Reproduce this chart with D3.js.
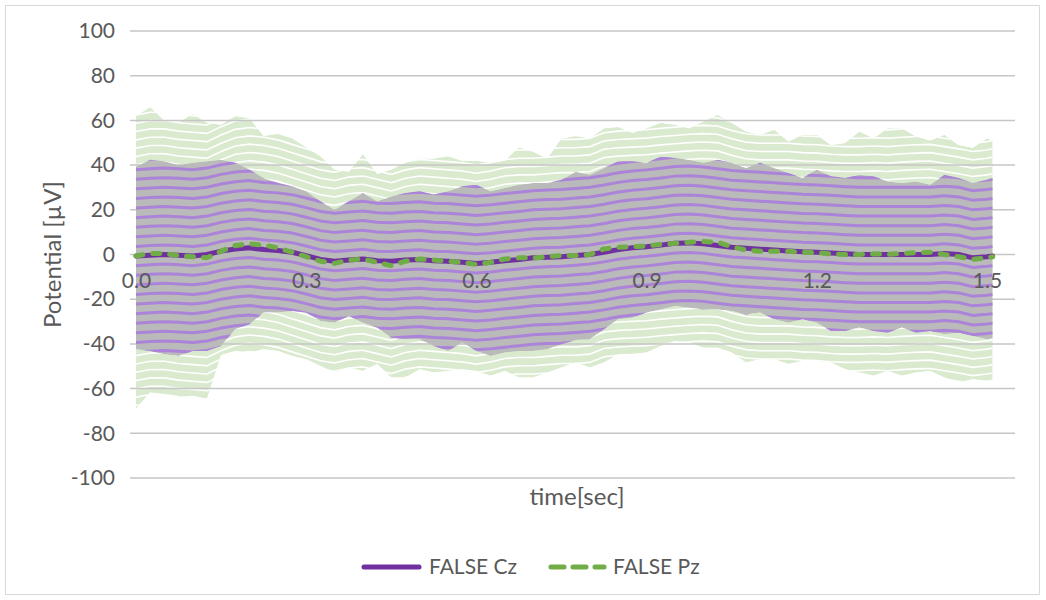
<!DOCTYPE html>
<html lang="en">
<head>
  <meta charset="utf-8">
  <title>FALSE Cz / Pz</title>
  <style>
    body { margin: 0; background: #fff; font-family: Lato, "Open Sans", sans-serif; }
    .tick text { fill: #595959; font-size: 21px; font-family: Lato, sans-serif; }
  </style>
</head>
<body>
  <svg id="chart" width="1046" height="600"></svg>

  <script src="https://d3js.org/d3.v7.min.js"></script>
  <script>
    // sample times (sec)
    const times = [0, 0.025, 0.05, 0.075, 0.1, 0.125, 0.15, 0.175, 0.2, 0.225, 0.25, 0.275, 0.3,
      0.325, 0.35, 0.375, 0.4, 0.425, 0.45, 0.475, 0.5, 0.525, 0.55, 0.575, 0.6,
      0.625, 0.65, 0.675, 0.7, 0.725, 0.75, 0.775, 0.8, 0.825, 0.85, 0.875, 0.9,
      0.925, 0.95, 0.975, 1.0, 1.025, 1.05, 1.075, 1.1, 1.125, 1.15, 1.175, 1.2,
      1.225, 1.25, 1.275, 1.3, 1.325, 1.35, 1.375, 1.4, 1.425, 1.45, 1.475, 1.5, 1.51];

    // FALSE Cz : mean and mean ± sd
    const czMean = [-0.7, -0.3, 0, -0.3, -0.7, 0, 1.5, 2.5, 3, 2.2, 1.8, 1, -0.5,
      -2.2, -3, -2.5, -2, -2.8, -3, -2.5, -2.2, -2.8, -3, -3.5, -4,
      -3.5, -2.8, -2.2, -1.5, -1.2, -1, -0.5, 0, 1, 2.2, 3, 3.5,
      4.2, 5, 5.2, 4.8, 4, 3.2, 2.8, 2.4, 2, 1.6, 1.2, 1,
      0.7, 0.3, 0, 0, 0, 0, 0, 0, 0.5, 0, -1.5, -1, -0.7];
    const czUpper = [39.4, 42.4, 41.7, 40, 41, 41.7, 42.4, 41, 38, 34.2, 32, 30.5, 28.3,
      23.8, 20, 23.8, 27.5, 23.8, 26, 27.5, 28.3, 26.8, 28.3, 30.5, 31.2,
      28.3, 29.8, 31.2, 32, 32, 33.5, 37, 35.7, 38.7, 41.7, 41.7, 41,
      43.9, 43.2, 42.4, 41, 42.4, 41, 38.7, 41, 38.7, 36.5, 34.2, 38,
      35, 34.2, 35.7, 35, 32.7, 32, 32.7, 31.2, 35.7, 34.2, 32, 33.5, 34.2];
    const czLower = [-42.4, -43.2, -44.6, -45.4, -43.2, -43.2, -40.9, -33.5, -31.2, -26, -26, -25.3, -26,
      -29.8, -30.5, -27.5, -30.5, -32.7, -37.2, -37.9, -37.9, -40.9, -43.2, -39.4, -43.2,
      -45.4, -43.9, -43.2, -43.2, -42.4, -40.2, -38.3, -37.9, -33.5, -29, -28.3, -26,
      -24.6, -23, -23.8, -24.6, -24.6, -25.3, -26.8, -26, -29, -30.5, -29, -30.5,
      -34.2, -34.2, -32.7, -34.2, -35, -32.7, -35, -34.2, -35.7, -35, -36.5, -37.9, -37.5];

    // FALSE Pz : mean and mean ± sd
    const pzMean = [-0.7, 0.5, 0.5, -0.5, -1, -1.5, 1.5, 4, 4.8, 4.2, 3, 1, -1,
      -3, -4, -2.5, -2, -3.5, -5, -3, -2, -2.5, -3, -3.5, -4.5,
      -3.5, -2, -1.5, -1.5, -1, -0.5, -0.5, 0, 2.5, 3.2, 3.5, 3.8,
      4.5, 5, 5.5, 5.8, 5.5, 3.5, 2, 1.5, 1.5, 1.5, 1, 0.8,
      0.3, 0, 0, 0.3, 0, 0.5, 0.8, 1, 0, -1, -2.2, -1.5, -1];
    const pzUpper = [62, 66, 60, 59, 63, 59, 58, 62, 61, 53, 54, 52, 48,
      44, 38, 37, 45, 36, 38, 41, 43, 43, 44, 42, 42,
      41, 42, 48, 46, 43, 52, 53, 52, 56.5, 57, 54.5, 56.5,
      59, 58, 56.5, 59.5, 62.5, 59, 55, 53.6, 55.8, 50.6, 53.6, 53.6,
      49, 49.9, 55, 52, 56.5, 56.5, 52.8, 51, 53.6, 49, 47.8, 52, 51];
    const pzLower = [-69, -61.7, -62.5, -64, -63.2, -64.7, -45, -43.2, -43.9, -42.4, -43.2, -45.4, -46.9,
      -49.9, -52.8, -50.6, -52.1, -49, -55, -55, -51.3, -52.8, -52.1, -51.3, -52.1,
      -54.3, -52.1, -55, -55, -52.8, -50.6, -48.3, -50.6, -48.3, -44.6, -44.6, -43.9,
      -40.9, -38.7, -39.4, -41.7, -41.7, -43.9, -48.3, -46.9, -46.9, -49, -47.6, -47.6,
      -48.3, -51.3, -52.8, -54.3, -52.1, -54.3, -52.8, -52.1, -55, -57.3, -55.8, -56.5, -56];

    const yTicks = [-100, -80, -60, -40, -20, 0, 20, 40, 60, 80, 100];
    const xTicks = [0, 0.3, 0.6, 0.9, 1.2, 1.5];

    const cz = times.map((t, i) => ({ t, mean: czMean[i], hi: czUpper[i], lo: czLower[i] }));
    const pz = times.map((t, i) => ({ t, mean: pzMean[i], hi: pzUpper[i], lo: pzLower[i] }));

    const svg = d3.select("#chart");

    const x = d3.scaleLinear().domain([0, 1.5]).range([136, 987]);
    const y = d3.scaleLinear().domain([-100, 100]).range([478, 31]);

    // chart border
    svg.append("rect")
      .attr("x", 5.5).attr("y", 5.5)
      .attr("width", 1034).attr("height", 589)
      .attr("fill", "none").attr("stroke", "#d9d9d9");

    const defs = svg.append("defs");

    const area = d3.area()
      .x(d => x(d.t))
      .y0(d => y(d.lo))
      .y1(d => y(d.hi));

    // band = filled area with stripes following the mean curve
    function band(data, id, fill, stripe, spacing, width) {
      defs.append("clipPath").attr("id", id)
        .append("path").attr("d", area(data));

      const g = svg.append("g").attr("clip-path", `url(#${id})`);
      g.append("path").attr("d", area(data)).attr("fill", fill);

      const offsets = d3.range(-24, 25).filter(k => k !== 0).map(k => k * spacing);
      g.selectAll("path.stripe")
        .data(offsets)
        .join("path")
        .attr("class", "stripe")
        .attr("fill", "none")
        .attr("stroke", stripe)
        .attr("stroke-width", width)
        .attr("d", off => d3.line().x(d => x(d.t)).y(d => y(d.mean) + off)(data));
    }

    band(pz, "pzClip", "#d9eacf", "#ffffff", 8.3, 1.6);

    // gridlines
    svg.append("g")
      .selectAll("line")
      .data(yTicks)
      .join("line")
      .attr("x1", 130).attr("x2", 1015)
      .attr("y1", d => y(d)).attr("y2", d => y(d))
      .attr("stroke", "#c6c6c6")
      .attr("stroke-width", 1.5);

    band(cz, "czClip", "#bababa", "#ab83d8", 9.6, 3);

    // mean lines
    const meanLine = d3.line().x(d => x(d.t)).y(d => y(d.mean));

    svg.append("path")
      .attr("d", meanLine(cz))
      .attr("fill", "none")
      .attr("stroke", "#7030a0")
      .attr("stroke-width", 5)
      .attr("stroke-linecap", "round")
      .attr("stroke-linejoin", "round");

    svg.append("path")
      .attr("d", meanLine(pz))
      .attr("fill", "none")
      .attr("stroke", "#70ad47")
      .attr("stroke-width", 5)
      .attr("stroke-dasharray", "7,10")
      .attr("stroke-linecap", "round")
      .attr("stroke-linejoin", "round");

    // axes
    svg.append("g")
      .attr("transform", "translate(119,0)")
      .call(d3.axisLeft(y).tickValues(yTicks).tickSize(0).tickPadding(4).tickFormat(d => String(d)))
      .call(g => g.select(".domain").remove());

    svg.append("g")
      .attr("transform", `translate(0,${y(0)})`)
      .call(d3.axisBottom(x).tickValues(xTicks).tickSize(0).tickPadding(19).tickFormat(d => d.toFixed(1)))
      .call(g => g.select(".domain").remove());

    // titles
    svg.append("text")
      .attr("transform", `translate(61,${y(0)}) rotate(-90)`)
      .attr("text-anchor", "middle")
      .attr("fill", "#595959")
      .attr("font-size", 24)
      .text("Potential [µV]");

    svg.append("text")
      .attr("x", 577).attr("y", 505)
      .attr("text-anchor", "middle")
      .attr("fill", "#595959")
      .attr("font-size", 24)
      .text("time[sec]");

    // legend
    const legend = svg.append("g").attr("font-size", 21).attr("fill", "#595959");
    legend.append("line")
      .attr("x1", 364).attr("x2", 419).attr("y1", 567).attr("y2", 567)
      .attr("stroke", "#7030a0").attr("stroke-width", 5).attr("stroke-linecap", "round");
    legend.append("text").attr("x", 429).attr("y", 574).text("FALSE Cz");

    legend.append("line")
      .attr("x1", 551).attr("x2", 604).attr("y1", 567).attr("y2", 567)
      .attr("stroke", "#70ad47").attr("stroke-width", 5)
      .attr("stroke-dasharray", "13,9").attr("stroke-linecap", "round");
    legend.append("text").attr("x", 613).attr("y", 574).text("FALSE Pz");
  </script>
</body>
</html>
